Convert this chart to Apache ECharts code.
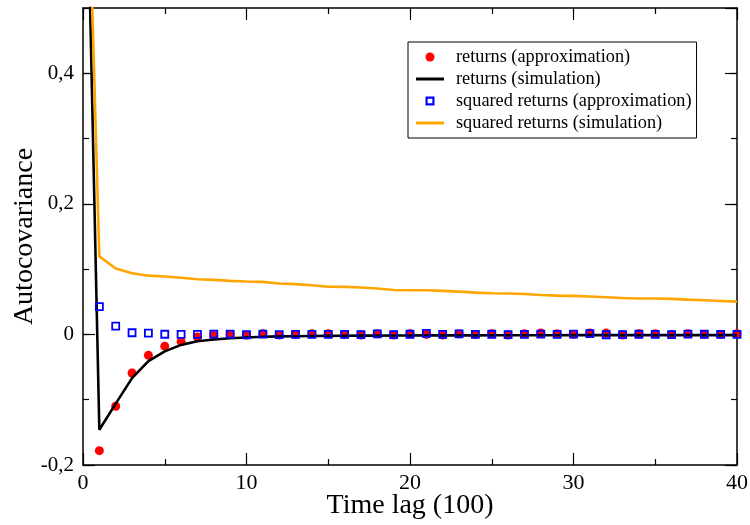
<!DOCTYPE html>
<html>
<head>
<meta charset="utf-8">
<script src="https://cdn.jsdelivr.net/npm/echarts@6/dist/echarts.min.js"></script>
<style>
html,body{margin:0;padding:0;background:#fff;}
#chart{width:750px;height:525px;}
</style>
</head>
<body>
<div id="chart"></div>
<script>
// Data
var lagsSim = [0,1,2,3,4,5,6,7,8,9,10,11,12,13,14,15,16,17,18,19,20,21,22,23,24,25,26,27,28,29,30,31,32,33,34,35,36,37,38,39,40];
var lagsApprox = [1,2,3,4,5,6,7,8,9,10,11,12,13,14,15,16,17,18,19,20,21,22,23,24,25,26,27,28,29,30,31,32,33,34,35,36,37,38,39,40];

var returnsApprox = [-0.178,-0.110,-0.059,-0.032,-0.018,-0.011,-0.004,-0.0015,0.000,-0.001,0.001,-0.001,0.000,0.001,0.001,0.000,-0.001,0.001,-0.001,0.001,0.000,-0.001,0.001,0.000,0.001,-0.001,0.001,0.002,0.001,0.000,0.002,0.002,-0.001,0.001,0.001,0.000,0.001,0.000,0.000,0.001];
var returnsSim = [1.0,-0.146,-0.106,-0.067,-0.041,-0.026,-0.016,-0.0105,-0.0078,-0.0058,-0.0046,-0.0036,-0.003,-0.0027,-0.0024,-0.0022,-0.002,-0.0019,-0.0018,-0.0017,-0.0016,-0.0015,-0.0015,-0.0014,-0.0014,-0.0013,-0.0013,-0.0012,-0.0012,-0.0012,-0.0011,-0.0011,-0.0011,-0.001,-0.001,-0.001,-0.001,-0.001,-0.001,-0.001,-0.001];
var squaredApprox = [0.0426,0.0128,0.0026,0.002,0.0003,0.0002,0.0001,0.0005,0.0004,-0.0005,0.0005,-0.0003,0.000,0.000,0.0002,0.0002,-0.0002,0.001,-0.0003,0.0003,0.0015,0.0001,0.0008,0.0001,0.0003,-0.0003,0.0002,0.0004,0.0002,0.0006,0.0012,-0.0005,-0.0002,0.0003,0.0001,-0.0002,0.0004,0.0003,0.0002,0.0002];
var squaredSim = [1.0,0.1195,0.101,0.0938,0.090,0.0887,0.0867,0.0846,0.0836,0.082,0.081,0.0805,0.078,0.077,0.0754,0.073,0.0728,0.0718,0.0703,0.068,0.0677,0.0677,0.0667,0.0656,0.064,0.063,0.0626,0.062,0.0605,0.0595,0.059,0.058,0.057,0.0559,0.055,0.055,0.0544,0.0533,0.0523,0.0513,0.0503];

var seriesNames = ['returns (approximation)','returns (simulation)','squared returns (approximation)','squared returns (simulation)'];
var xTickValues = [0,10,20,30,40];
var yTickValues = [-0.2,0,0.2,0.4];

function pairs(xs, ys){ return xs.map(function(x,i){ return [x, ys[i]]; }); }

var FONT = 'Liberation Serif';
var chart = echarts.init(document.getElementById('chart'), null, {renderer:'canvas'});

var baseX = {
  type:'value', min:0, max:40, interval:10,
  axisLine:{show:true, onZero:false, lineStyle:{color:'#000', width:1.5}},
  axisTick:{show:true, inside:true, length:12, lineStyle:{color:'#000', width:1.2}},
  minorTick:{show:true, splitNumber:2, length:6, lineStyle:{color:'#000', width:1.2}},
  splitLine:{show:false}, minorSplitLine:{show:false}
};
var baseY = {
  type:'value', min:-0.2, max:0.5, interval:0.2,
  axisLine:{show:true, onZero:false, lineStyle:{color:'#000', width:1.5}},
  axisTick:{show:true, inside:true, length:12, lineStyle:{color:'#000', width:1.2}},
  splitLine:{show:false}
};
var minorY = {
  type:'value', min:-0.2, max:0.5, interval:0.1,
  axisLine:{show:false, onZero:false},
  axisTick:{show:true, inside:true, length:6, lineStyle:{color:'#000', width:1.2}},
  axisLabel:{show:false},
  splitLine:{show:false}
};

var option = {
  animation:false,
  backgroundColor:'#fff',
  grid:{left:83, right:13, top:8, bottom:60, containLabel:false, outerBoundsMode:'none'},
  legend:{
    left:408, top:42, orient:'vertical',
    padding:[4,5,4,8],
    itemGap:0, itemWidth:28, itemHeight:9,
    borderColor:'#000', borderWidth:1,
    backgroundColor:'#fff',
    textStyle:{fontFamily:FONT, fontSize:18.3, color:'#000', lineHeight:22, padding:[0,0,0,7]},
    data:[
      {name:seriesNames[0], icon:'circle', itemStyle:{color:'#ff0000', opacity:1}},
      {name:seriesNames[1], icon:'path://M0,0L28,0L28,3L0,3Z', itemStyle:{color:'#000', opacity:1}},
      {name:seriesNames[2], icon:'path://M0,0L10,0L10,10L0,10ZM2.4,2.4L2.4,7.6L7.6,7.6L7.6,2.4Z', itemStyle:{color:'#0000ff', borderWidth:0, opacity:1}},
      {name:seriesNames[3], icon:'path://M0,0L28,0L28,3L0,3Z', itemStyle:{color:'#ffa500', opacity:1}}
    ]
  },
  xAxis:[
    Object.assign({}, baseX, {
      position:'bottom',
      axisLabel:{show:true, fontFamily:FONT, fontSize:22, color:'#000', margin:7,
        formatter:function(v){ return xTickValues.indexOf(v) >= 0 ? String(v) : ''; }},
      name:'Time lag (100)', nameLocation:'middle', nameGap:27, nameMoveOverlap:false,
      nameTextStyle:{fontFamily:FONT, fontSize:28, color:'#000'}
    }),
    Object.assign({}, baseX, {position:'top', axisLabel:{show:false}})
  ],
  yAxis:[
    Object.assign({}, baseY, {
      position:'left',
      axisLabel:{show:true, fontFamily:FONT, fontSize:21, color:'#000', margin:9, showMaxLabel:false,
        formatter:function(v){
          var r = Math.round(v*10)/10;
          for (var i=0;i<yTickValues.length;i++){ if (Math.abs(yTickValues[i]-r)<1e-9 && Math.abs(v-r)<1e-9) return String(r).replace('.', ','); }
          return '';
        }},
      name:'Autocovariance', nameLocation:'middle', nameGap:44, nameRotate:90, nameMoveOverlap:false,
      nameTextStyle:{fontFamily:FONT, fontSize:28, color:'#000'}
    }),
    Object.assign({}, baseY, {position:'right', axisLabel:{show:false}}),
    Object.assign({}, minorY, {position:'left'}),
    Object.assign({}, minorY, {position:'right'})
  ],
  series:[
    {
      name:seriesNames[0], type:'scatter', xAxisIndex:0, yAxisIndex:0,
      data:pairs(lagsApprox, returnsApprox),
      symbol:'circle', symbolSize:9,
      itemStyle:{color:'#ff0000', opacity:1}, clip:true, z:2
    },
    {
      name:seriesNames[1], type:'line', xAxisIndex:0, yAxisIndex:0,
      data:pairs(lagsSim, returnsSim),
      symbol:'none', showSymbol:false,
      lineStyle:{color:'#000', width:2.6}, itemStyle:{color:'#000'}, clip:true, z:3
    },
    {
      name:seriesNames[2], type:'scatter', xAxisIndex:0, yAxisIndex:0,
      data:pairs(lagsApprox, squaredApprox),
      symbol:'rect', symbolSize:7,
      itemStyle:{color:'rgba(0,0,0,0)', borderColor:'#0000ff', borderWidth:1.8, opacity:1}, clip:true, z:4
    },
    {
      name:seriesNames[3], type:'line', xAxisIndex:0, yAxisIndex:0,
      data:pairs(lagsSim, squaredSim),
      symbol:'none', showSymbol:false,
      lineStyle:{color:'#ffa500', width:2.6}, itemStyle:{color:'#ffa500'}, clip:true, z:5
    }
  ]
};
chart.setOption(option);
</script>
</body>
</html>
